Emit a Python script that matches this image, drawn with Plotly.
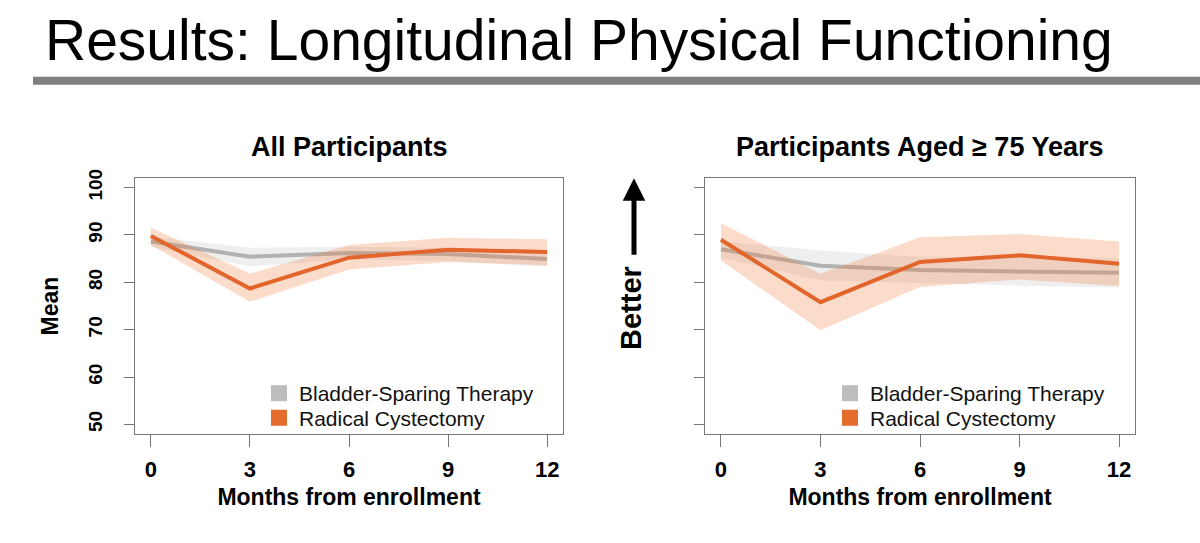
import plotly.graph_objects as go

# ---------------- data ----------------
months = [0, 3, 6, 9, 12]
x_tick_vals = [0, 3, 6, 9, 12]
y_tick_vals = [50, 60, 70, 80, 90, 100]
groups = ["Bladder-Sparing Therapy", "Radical Cystectomy"]
panel_titles = ["All Participants", "Participants Aged \u2265 75 Years"]

# All participants
all_bst_mean = [88.6, 85.4, 86.2, 86.0, 84.9]
all_bst_low = [87.5, 83.4, 84.8, 84.5, 83.3]
all_bst_high = [89.7, 87.3, 87.5, 87.3, 86.4]
all_rc_mean = [89.8, 78.7, 85.2, 86.9, 86.4]
all_rc_low = [87.9, 75.9, 82.7, 84.3, 83.6]
all_rc_high = [91.6, 81.8, 87.9, 89.4, 89.1]

# Participants aged >= 75
old_bst_mean = [87.0, 83.5, 82.6, 82.3, 82.0]
old_bst_low = [85.2, 80.4, 79.8, 79.3, 78.9]
old_bst_high = [88.7, 86.7, 85.4, 85.4, 85.1]
old_rc_mean = [89.0, 75.8, 84.3, 85.7, 83.9]
old_rc_low = [84.6, 69.9, 79.0, 80.6, 79.2]
old_rc_high = [92.5, 81.8, 89.5, 90.2, 88.6]

# ---------------- style ----------------
W, H = 1200, 543
FONT = "Liberation Sans, Arial, Helvetica, sans-serif"
GRAY_LINE = "rgb(178,178,178)"
GRAY_BAND = "rgba(190,190,190,0.25)"
ORANGE_LINE = "#E2652B"
ORANGE_BAND = "rgba(240,130,70,0.28)"
LEG_GRAY = "#BDBDBD"
LEG_ORANGE = "#E46C2D"

def px_x(p):
    return p / W

def px_y(p):
    return 1 - p / H

fig = go.Figure()

panels = [
    ("x", "y", all_bst_mean, all_bst_low, all_bst_high, all_rc_mean, all_rc_low, all_rc_high),
    ("x2", "y2", old_bst_mean, old_bst_low, old_bst_high, old_rc_mean, old_rc_low, old_rc_high),
]

for xa, ya, bm, bl, bh, rm, rl, rh in panels:
    fig.add_trace(go.Scatter(x=months + months[::-1], y=bh + bl[::-1], fill="toself",
                             fillcolor=GRAY_BAND, line=dict(width=0), mode="lines",
                             hoverinfo="skip", showlegend=False, xaxis=xa, yaxis=ya))
    fig.add_trace(go.Scatter(x=months, y=bm, mode="lines", line=dict(color=GRAY_LINE, width=4),
                             name=groups[0], showlegend=False, xaxis=xa, yaxis=ya))
    fig.add_trace(go.Scatter(x=months + months[::-1], y=rh + rl[::-1], fill="toself",
                             fillcolor=ORANGE_BAND, line=dict(width=0), mode="lines",
                             hoverinfo="skip", showlegend=False, xaxis=xa, yaxis=ya))
    fig.add_trace(go.Scatter(x=months, y=rm, mode="lines", line=dict(color=ORANGE_LINE, width=4),
                             name=groups[1], showlegend=False, xaxis=xa, yaxis=ya))

# legend entries (square swatches), one legend per row so spacing can match
leg_cols = [LEG_GRAY, LEG_ORANGE]
leg_ids = [["legend", "legend2"], ["legend3", "legend4"]]
for pi, (xa, ya) in enumerate([("x", "y"), ("x2", "y2")]):
    for gi, g in enumerate(groups):
        fig.add_trace(go.Scatter(x=[None], y=[None], mode="markers", name=g,
                                 marker=dict(symbol="square", size=20, color=leg_cols[gi]),
                                 legend=leg_ids[pi][gi], xaxis=xa, yaxis=ya))

# geometry
left_box = (135, 563)
right_box = (705, 1135)
box_top, box_bottom = 172, 432
ydom = [px_y(box_bottom), px_y(box_top)]

tick_font = dict(family=FONT, size=22, color="black", weight="bold")
common_x = dict(range=[-0.48, 12.48], tickmode="array", tickvals=x_tick_vals,
                ticks="outside", ticklen=12, tickcolor="#777", tickwidth=1,
                showline=True, linecolor="#777", linewidth=1, mirror=True,
                showgrid=False, zeroline=False, tickfont=tick_font,
                ticklabelstandoff=4,
                title=dict(text="Months from enrollment",
                           font=dict(family=FONT, size=23, color="black", weight="bold"),
                           standoff=7))
common_y = dict(range=[48, 102], tickmode="array", tickvals=y_tick_vals,
                ticks="outside", ticklen=10, tickcolor="#777", tickwidth=1,
                showline=True, linecolor="#777", linewidth=1, mirror=True,
                showgrid=False, zeroline=False, tickangle=-90,
                tickfont=dict(family=FONT, size=19, color="black", weight="bold"),
                domain=ydom)

fig.update_layout(
    width=W, height=H,
    margin=dict(l=0, r=0, t=0, b=0),
    paper_bgcolor="white", plot_bgcolor="white",
    font=dict(family=FONT),
    xaxis=dict(common_x, domain=[px_x(left_box[0]), px_x(left_box[1])], anchor="y"),
    xaxis2=dict(common_x, domain=[px_x(right_box[0]), px_x(right_box[1])], anchor="y2"),
    yaxis=dict(common_y, anchor="x", ticklabelstandoff=14,
               title=dict(text="Mean", font=dict(family=FONT, size=23, color="black", weight="bold"),
                          standoff=20)),
    yaxis2=dict(common_y, anchor="x2", showticklabels=False),
    hovermode=False,
)

leg_font = dict(family=FONT, size=21, color="#111")
row_y = [391, 416]
sym_x = [281, 852]
legend_layouts = {}
for pi in range(2):
    for gi in range(2):
        legend_layouts[leg_ids[pi][gi]] = dict(
            x=px_x(sym_x[pi] - 22), xanchor="left",
            y=px_y(row_y[gi]), yanchor="middle",
            bgcolor="rgba(0,0,0,0)", borderwidth=0, font=leg_font,
            itemclick=False, itemdoubleclick=False,
        )
fig.update_layout(**legend_layouts)

# slide title and rule
fig.add_annotation(text="Results: Longitudinal Physical Functioning", xref="paper", yref="paper",
                   x=px_x(43), y=px_y(32), xanchor="left", yanchor="middle", showarrow=False,
                   font=dict(family=FONT, size=57, color="black"))
fig.add_shape(type="rect", xref="paper", yref="paper", x0=px_x(33), x1=1.0,
              y0=px_y(77), y1=px_y(69), fillcolor="#808080", line=dict(width=0))

# panel titles
for t, (a, b) in zip(panel_titles, [left_box, right_box]):
    fig.add_annotation(text=t, xref="paper", yref="paper", x=px_x((a + b) / 2), y=px_y(140),
                       xanchor="center", yanchor="middle", showarrow=False,
                       font=dict(family=FONT, size=27, color="black", weight="bold"))

# "Better" arrow
fig.add_annotation(text="", xref="paper", yref="paper", x=px_x(634), y=px_y(172),
                   ax=0, ay=78, showarrow=True, arrowhead=2, arrowsize=0.9, arrowwidth=5,
                   arrowcolor="black")
fig.add_annotation(text="Better", xref="paper", yref="paper", x=px_x(631), y=px_y(304),
                   xanchor="center", yanchor="middle", textangle=-90, showarrow=False,
                   font=dict(family=FONT, size=29, color="black", weight="bold"))

fig.write_html("out.html")
